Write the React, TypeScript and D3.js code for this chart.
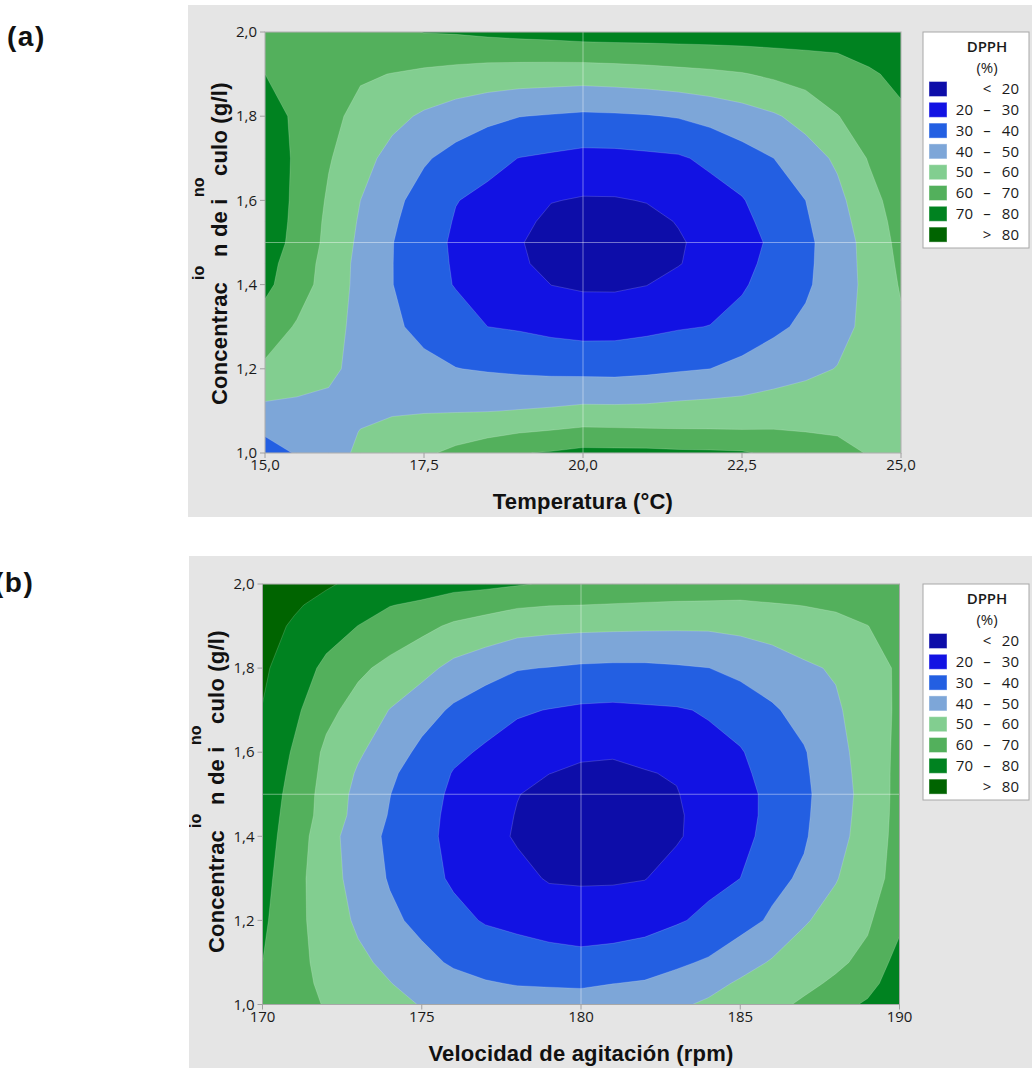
import React from 'react';
import * as d3 from 'd3';

// DPPH (%) response surfaces, sampled on a grid of factor levels.
const concRows = [1.0, 1.05, 1.1, 1.2, 1.3, 1.4, 1.45, 1.5, 1.55, 1.6, 1.7, 1.8, 1.9, 1.95, 2.0];

const tempCols = [15, 15.5, 16, 16.5, 17, 17.5, 18, 18.5, 19, 19.5, 20, 20.5, 21, 21.5, 22, 22.5, 23, 23.5, 24, 24.5, 25];
const dpphByTemp = [
  [35, 40.9, 46.7, 51.5, 55, 58.5, 62.2, 65.5, 69.5, 70.8, 72.7, 72.5, 72.5, 71.8, 71.5, 71, 68, 64.4, 62.5, 59.5, 57],
  [41.4, 44.3, 47.3, 50.2, 52.2, 54.3, 56, 57.8, 59.5, 60.8, 62.3, 62, 61.6, 61.2, 61, 60.8, 60.7, 60, 59.4, 58, 57],
  [47.7, 48, 48.5, 48.8, 49.2, 49.4, 49.5, 49.7, 50.4, 51.2, 52.4, 52.3, 52.5, 53.4, 54, 54.1, 55.2, 55.6, 56.4, 57, 57],
  [58, 54, 51.2, 48.2, 45.5, 42.8, 40.2, 39.2, 38.3, 37.6, 37.2, 37, 37.8, 39, 40, 42.6, 45.2, 47.8, 50.3, 53.9, 57.5],
  [66.5, 58.9, 53.2, 47.4, 41.9, 37, 34.6, 30, 29, 27.4, 26.3, 26.5, 27.7, 29.2, 30.2, 34.2, 38.2, 41.8, 47, 52.5, 58.7],
  [71.8, 65.5, 55.1, 47.5, 40.2, 34.6, 29.4, 27.35, 24.9, 19.9, 18.7, 18.6, 19.8, 23.2, 25.8, 28.6, 35.3, 38.6, 45.1, 52.7, 60.8],
  [71.8, 67.5, 55, 47.8, 40.2, 34.2, 28.9, 25.8, 21.6, 16.8, 16.2, 16.1, 16.8, 19.5, 23.8, 26.9, 33.4, 38.1, 45.2, 53, 61.8],
  [71.8, 69, 56.7, 48.2, 40.3, 34, 28.5, 24.7, 20.8, 15.5, 15, 15, 15.5, 19, 23, 26, 32, 37.8, 45.3, 53.3, 62.9],
  [72, 69.2, 57.5, 49, 41.3, 35, 29.3, 25.9, 22.8, 17.5, 16.6, 16.6, 17.5, 20.5, 24.5, 27.5, 33.8, 38.9, 46.3, 54.8, 63.8],
  [72.2, 69.3, 58.6, 50, 42.5, 36.2, 30.3, 27.8, 25.3, 20.4, 19.2, 19.3, 20.4, 23.8, 26.4, 29.3, 36, 40, 47.5, 56.5, 64.9],
  [72.4, 69.4, 60.8, 53.5, 46.8, 41.1, 36.8, 32.7, 29.8, 28.5, 27.2, 27.3, 28.1, 28.9, 31.9, 36.2, 40, 45.8, 51.5, 60.8, 67],
  [72, 69.2, 62.4, 57.4, 52.7, 48.6, 45.2, 42.5, 40.2, 39.3, 38.4, 38.8, 39.4, 40.6, 43, 45.7, 48.9, 53.2, 59.7, 64.5, 69.1],
  [70, 67, 64.5, 61, 59.8, 58.3, 57, 55.8, 55.2, 54.8, 54.4, 55, 55.8, 57, 58, 59.4, 61.7, 64.2, 66.6, 69.3, 71.3],
  [68, 66.5, 65, 63.5, 63.6, 64, 63.7, 63.6, 63.8, 64, 64.5, 65, 65.5, 66, 66.6, 67.3, 68.4, 69.3, 70, 71.4, 72.4],
  [67, 66, 65, 65.5, 67.5, 70.3, 70.8, 72, 73, 73.7, 74.7, 75, 75, 75.2, 75.3, 75.3, 75, 74.5, 74.2, 73.9, 73.5],
];

const speedCols = [170, 171, 172, 173, 174, 175, 176, 177, 178, 179, 180, 181, 182, 183, 184, 185, 186, 187, 188, 189, 190];
const dpphBySpeed = [
  [67, 63.2, 59.4, 56.1, 52.9, 49.5, 47, 45.5, 44.2, 44.2, 44.2, 45.8, 46.4, 48.3, 51.7, 55, 57.8, 61.3, 66.5, 71.4, 78],
  [68.2, 63.3, 57.9, 54, 50.3, 46.1, 43, 40.7, 39.5, 39.1, 38.7, 39.9, 40.9, 43.4, 46.5, 51.5, 54.2, 58, 61.4, 66.5, 76],
  [70, 63, 56.9, 52, 47.8, 42.7, 38.8, 36.7, 34.9, 33.9, 33.1, 34, 35.3, 38.4, 41.2, 45.7, 51, 55.1, 58.4, 62.3, 74],
  [71.6, 63, 55.2, 48.5, 42, 37.5, 32.8, 29.2, 27.6, 25.8, 24.8, 25.2, 26.5, 29, 32.1, 36.7, 41.3, 49, 53.9, 58.7, 67.5],
  [73.2, 63.2, 54.4, 46, 39.2, 33.8, 28.6, 25.1, 22.7, 19.2, 18.9, 19, 19.7, 23.5, 27.5, 30, 37.6, 41.4, 49.4, 56.5, 63],
  [74.8, 64.4, 54.9, 43.7, 38.6, 32.6, 27.6, 23.4, 19, 16, 15.5, 15, 16, 19, 23.8, 27, 33.5, 39, 46.5, 54.5, 63],
  [75.6, 65.3, 56.5, 46.5, 39.4, 33, 27.9, 24.3, 19.5, 16.4, 15.8, 15.4, 16.3, 18.9, 23.4, 26.8, 32.5, 38.5, 45.9, 54, 62.8],
  [76.4, 66.2, 56.5, 47.3, 40.2, 33.6, 28.5, 25.7, 20.3, 17.5, 17.3, 16.8, 17.5, 19.6, 23.6, 27.4, 32, 38.2, 45.4, 53.6, 62.7],
  [77.2, 67.5, 57.2, 49, 41.6, 35.6, 29.5, 27.2, 23.1, 20.1, 18.8, 18.4, 19.6, 20.6, 25.5, 28.3, 33, 38.7, 46, 54, 62.5],
  [78, 68.8, 58, 51.2, 45.1, 37.6, 32, 28.7, 25.8, 23.1, 21.1, 20.8, 21.8, 24.7, 27.5, 29.2, 35.4, 39.3, 46.8, 54.3, 62.2],
  [79.7, 72, 62.7, 56.2, 49.7, 44.2, 38.5, 34.3, 31.1, 29.7, 28.5, 28.1, 28.7, 29.2, 30.8, 35, 38.8, 43.3, 48.5, 55.5, 61.4],
  [81.5, 75, 67.9, 61.9, 57.4, 53, 47.4, 44, 40.6, 39.7, 38.7, 38.3, 38.3, 39, 39.9, 42.3, 45.1, 48.5, 51, 55.8, 61.4],
  [83, 79, 74.1, 69.9, 66, 62.5, 58.5, 56.1, 53.7, 52.7, 52.1, 51.8, 51.6, 51.4, 51.4, 52.4, 54, 56, 58, 59.9, 63],
  [84, 81, 77.6, 73.5, 70.3, 68.5, 65.5, 63.4, 61.2, 60.3, 60, 59.5, 59, 58.6, 58.5, 58.3, 59.4, 60.2, 61, 62.5, 64.5],
  [85, 83, 81, 78, 75.5, 74.5, 73, 72.3, 70.8, 69, 68, 67.5, 67, 66.5, 66, 65.5, 65.2, 65.2, 65.4, 65.6, 66],
];

// Contour levels and the fill of each band (lowest band first).
const levels = [20, 30, 40, 50, 60, 70, 80];
const bandColors = ['#0d0da9', '#1212e3', '#235fe2', '#7da6d8', '#82ce90', '#53b05c', '#008220', '#006400'];
const legendLow = ['', '20', '30', '40', '50', '60', '70', ''];
const legendSep = ['<', '–', '–', '–', '–', '–', '–', '>'];
const legendHigh = ['20', '30', '40', '50', '60', '70', '80', '80'];

// Axes
const concTicks = [1.0, 1.2, 1.4, 1.6, 1.8, 2.0];
const concTickLabels = ['1,0', '1,2', '1,4', '1,6', '1,8', '2,0'];
const tempTicks = [15, 17.5, 20, 22.5, 25];
const tempTickLabels = ['15,0', '17,5', '20,0', '22,5', '25,0'];
const speedTicks = [170, 175, 180, 185, 190];
const speedTickLabels = ['170', '175', '180', '185', '190'];
const tempRef = 20;
const speedRef = 180;
const concRef = 1.5;

const TICK_FONT = "'Open Sans', 'Noto Sans', sans-serif";
const TITLE_FONT = "'Liberation Sans', Arial, sans-serif";

type Box = { x0: number; x1: number; y0: number; y1: number };

function ContourPanel(props: {
  id: string;
  tag: string;
  tagX: number;
  tagY: number;
  bg: { x: number; y: number; w: number; h: number };
  plot: Box;
  cols: number[];
  values: number[][];
  xTicks: number[];
  xTickLabels: string[];
  xRef: number;
  xTitle: string;
  yTitleBase: number;
  yTitleStart: number;
}) {
  const { id, bg, plot, cols, values } = props;
  const n = cols.length;
  const m = concRows.length;

  const xScale = d3.scaleLinear().domain([cols[0], cols[n - 1]]).range([plot.x0, plot.x1]);
  const yScale = d3.scaleLinear().domain([1, 2]).range([plot.y1, plot.y0]);
  const colAt = d3.scaleLinear().domain(d3.range(n)).range(cols);
  const rowAt = d3.scaleLinear().domain(d3.range(m)).range(concRows);
  const toIndex = (v: number, max: number) => Math.max(0, Math.min(max, v - 0.5));

  const projection = d3.geoTransform({
    point(this: any, gx: number, gy: number) {
      this.stream.point(xScale(colAt(toIndex(gx, n - 1))), yScale(rowAt(toIndex(gy, m - 1))));
    },
  });
  const path = d3.geoPath(projection as any);
  const bands = d3.contours().size([n, m]).thresholds(levels)(values.flat());

  const legendX = 923;
  const legendY = plot.y0;
  const rowY = (i: number) => legendY + 57 + i * 20.8;

  return (
    <g>
      <rect x={bg.x} y={bg.y} width={bg.w} height={bg.h} fill="#e5e5e5" />
      <clipPath id={`clip-${id}`}>
        <rect x={bg.x} y={bg.y} width={bg.w} height={bg.h} />
      </clipPath>

      {/* filled contour bands */}
      <rect x={plot.x0} y={plot.y0} width={plot.x1 - plot.x0} height={plot.y1 - plot.y0} fill={bandColors[0]} />
      {bands.map((b, i) => (
        <path
          key={i}
          d={path(b as any) || ''}
          fill={bandColors[i + 1]}
          stroke="rgba(255,255,255,0.28)"
          strokeWidth={0.6}
        />
      ))}

      {/* reference lines */}
      <line x1={xScale(props.xRef)} x2={xScale(props.xRef)} y1={plot.y0} y2={plot.y1} stroke="#ffffff" strokeOpacity={0.42} strokeWidth={1} />
      <line x1={plot.x0} x2={plot.x1} y1={yScale(concRef)} y2={yScale(concRef)} stroke="#ffffff" strokeOpacity={0.42} strokeWidth={1} />

      {/* frame */}
      <rect x={plot.x0} y={plot.y0} width={plot.x1 - plot.x0} height={plot.y1 - plot.y0} fill="none" stroke="#a8a8a8" strokeWidth={1} />

      {/* y axis */}
      {concTicks.map((t, i) => (
        <g key={`y${i}`}>
          <line x1={plot.x0 - 5} x2={plot.x0} y1={yScale(t)} y2={yScale(t)} stroke="#a0a0a0" />
          <text x={plot.x0 - 8} y={yScale(t)} dy="0.35em" textAnchor="end" fontFamily={TICK_FONT} fontSize={15} fill="#1a1a1a">
            {concTickLabels[i]}
          </text>
        </g>
      ))}

      {/* x axis */}
      {props.xTicks.map((t, i) => (
        <g key={`x${i}`}>
          <line x1={xScale(t)} x2={xScale(t)} y1={plot.y1} y2={plot.y1 + 5} stroke="#a0a0a0" />
          <text x={xScale(t)} y={plot.y1 + 17} textAnchor="middle" fontFamily={TICK_FONT} fontSize={15} fill="#1a1a1a">
            {props.xTickLabels[i]}
          </text>
        </g>
      ))}

      <text
        x={(plot.x0 + plot.x1) / 2}
        y={plot.y1 + 56}
        textAnchor="middle"
        fontFamily={TITLE_FONT}
        fontWeight="bold"
        fontSize={22}
        letterSpacing={0.2}
        fill="#111"
      >
        {props.xTitle}
      </text>

      {/* y title, with the accented glyphs displaced as in the export */}
      <g clipPath={`url(#clip-${id})`}>
        <g transform={`translate(${props.yTitleBase},${props.yTitleStart}) rotate(-90)`} fontFamily={TITLE_FONT} fontWeight="bold" fill="#111">
          <text x={0} y={0} fontSize={22} letterSpacing={0.2}>Concentrac</text>
          <text x={148} y={0} fontSize={22} letterSpacing={0.2}>n de i</text>
          <text x={229} y={0} fontSize={22} letterSpacing={0.2}>culo (g/l)</text>
          <text x={125} y={-23} fontSize={16}>io</text>
          <text x={208} y={-23} fontSize={16}>no</text>
        </g>
      </g>

      {/* legend */}
      <rect x={legendX} y={legendY} width={106} height={216} fill="#ffffff" stroke="#a8a8a8" strokeWidth={1} />
      <text x={987} y={legendY + 20} textAnchor="middle" fontFamily={TICK_FONT} fontWeight={600} fontSize={15} fill="#1a1a1a">DPPH</text>
      <text x={987} y={legendY + 41} textAnchor="middle" fontFamily={TICK_FONT} fontSize={15} fill="#1a1a1a">(%)</text>
      {bandColors.map((c, i) => (
        <g key={`l${i}`}>
          <rect x={929} y={rowY(i) - 7.5} width={18} height={15} fill={c} stroke="rgba(255,255,255,0.4)" strokeWidth={1} />
          <text x={973} y={rowY(i)} dy="0.35em" textAnchor="end" fontFamily={TICK_FONT} fontSize={15} fill="#1a1a1a">{legendLow[i]}</text>
          <text x={987} y={rowY(i)} dy="0.35em" textAnchor="middle" fontFamily={TICK_FONT} fontSize={15} fill="#1a1a1a">{legendSep[i]}</text>
          <text x={1019} y={rowY(i)} dy="0.35em" textAnchor="end" fontFamily={TICK_FONT} fontSize={15} fill="#1a1a1a">{legendHigh[i]}</text>
        </g>
      ))}

      {/* panel tag */}
      <text x={props.tagX} y={props.tagY} fontFamily={TITLE_FONT} fontWeight="bold" fontSize={28} letterSpacing={1.5} fill="#111">
        {props.tag}
      </text>
    </g>
  );
}

export default function App() {
  return (
    <svg width={1032} height={1068} style={{ position: 'absolute', left: 0, top: 0 }} xmlns="http://www.w3.org/2000/svg">
      <rect x={0} y={0} width={1032} height={1068} fill="#ffffff" />
      <ContourPanel
        id="temp"
        tag="(a)"
        tagX={7}
        tagY={46}
        bg={{ x: 188, y: 5, w: 844, h: 512 }}
        plot={{ x0: 265, x1: 901, y0: 32, y1: 453 }}
        cols={tempCols}
        values={dpphByTemp}
        xTicks={tempTicks}
        xTickLabels={tempTickLabels}
        xRef={tempRef}
        xTitle="Temperatura (°C)"
        yTitleBase={227}
        yTitleStart={405}
      />
      <ContourPanel
        id="speed"
        tag="(b)"
        tagX={-6}
        tagY={592}
        bg={{ x: 189, y: 556, w: 843, h: 512 }}
        plot={{ x0: 262.5, x1: 899.5, y0: 584, y1: 1004.5 }}
        cols={speedCols}
        values={dpphBySpeed}
        xTicks={speedTicks}
        xTickLabels={speedTickLabels}
        xRef={speedRef}
        xTitle="Velocidad de agitación (rpm)"
        yTitleBase={224}
        yTitleStart={953}
      />
    </svg>
  );
}
